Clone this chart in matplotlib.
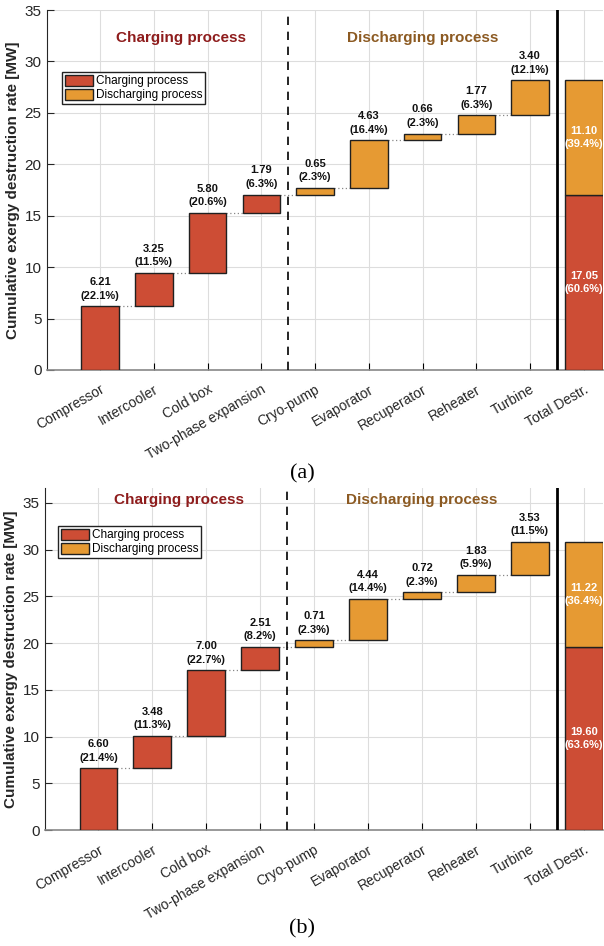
import matplotlib.pyplot as plt
import numpy as np

plt.rcParams['font.family'] = ['Liberation Sans', 'DejaVu Sans']

components = ["Compressor", "Intercooler", "Cold box", "Two-phase expansion",
              "Cryo-pump", "Evaporator", "Recuperator", "Reheater", "Turbine"]
total_label = "Total Destr."
n_charging = 4  # first four components belong to the charging process

# case (a)
vals_a = [6.21, 3.25, 5.80, 1.79, 0.65, 4.63, 0.66, 1.77, 3.40]
pct_a = [22.1, 11.5, 20.6, 6.3, 2.3, 16.4, 2.3, 6.3, 12.1]
tot_a = [17.05, 11.10]
tot_pct_a = [60.6, 39.4]

# case (b)
vals_b = [6.60, 3.48, 7.00, 2.51, 0.71, 4.44, 0.72, 1.83, 3.53]
pct_b = [21.4, 11.3, 22.7, 8.2, 2.3, 14.4, 2.3, 5.9, 11.5]
tot_b = [19.60, 11.22]
tot_pct_b = [63.6, 36.4]

c_chg = "#cd4d35"
c_dis = "#e69a33"
txt_chg = "#8e1c1c"
txt_dis = "#8c5a22"


def waterfall(ax, vals, pct, tot, tot_pct, ymax, title_y):
    w = 0.7
    x = np.arange(1, len(vals) + 1)
    base = np.concatenate([[0], np.cumsum(vals)[:-1]])
    cols = [c_chg if i < n_charging else c_dis for i in range(len(vals))]
    ax.bar(x, vals, w, bottom=base, color=cols, edgecolor="#202020", lw=1, zorder=3)
    # dotted connectors between consecutive bars
    for i in range(len(vals) - 1):
        top = base[i] + vals[i]
        ax.plot([x[i] + w / 2, x[i + 1] - w / 2], [top, top], ls=(0, (1, 2)), c="#888888", lw=0.9, zorder=2)
    for i in range(len(vals)):
        ax.annotate(f"{vals[i]:.2f}\n({pct[i]:.1f}%)", (x[i], base[i] + vals[i]),
                    xytext=(0, 4), textcoords="offset points", ha="center", va="bottom",
                    fontsize=8, fontweight="bold", linespacing=1.45, color="#111111")
    # stacked total bar
    xt = len(vals) + 1
    ax.bar(xt, tot[0], w, color=c_chg, edgecolor="#202020", lw=1, zorder=3)
    ax.bar(xt, tot[1], w, bottom=tot[0], color=c_dis, edgecolor="#202020", lw=1, zorder=3)
    ax.text(xt, tot[0] / 2, f"{tot[0]:.2f}\n({tot_pct[0]:.1f}%)", ha="center", va="center",
            color="white", fontsize=8, fontweight="bold", linespacing=1.45, zorder=4)
    ax.text(xt, tot[0] + tot[1] / 2, f"{tot[1]:.2f}\n({tot_pct[1]:.1f}%)", ha="center",
            va="center", color="white", fontsize=8, fontweight="bold", linespacing=1.45, zorder=4)

    ax.axvline(n_charging + 0.5, c="black", ls=(0, (5, 4)), lw=1.2, zorder=4)
    ax.axvline(len(vals) + 0.5, c="black", lw=2, zorder=4)

    ax.text(2.5, title_y, "Charging process", color=txt_chg, fontsize=11,
            fontweight="bold", ha="center", va="center")
    ax.text(7.0, title_y, "Discharging process", color=txt_dis, fontsize=11,
            fontweight="bold", ha="center", va="center")

    ax.set_xlim(0.01, 10.35)
    ax.set_ylim(0, ymax)
    ax.set_xticks(list(x) + [xt])
    ax.set_xticklabels(components + [total_label], rotation=30, ha="right",
                       rotation_mode="anchor", fontsize=10, color="#262626")
    ax.set_yticks(np.arange(0, 36, 5))
    ax.tick_params(axis="y", labelsize=11, colors="#262626", direction="in", length=5, pad=4)
    ax.tick_params(axis="x", direction="in", length=5, pad=9)
    ax.grid(True, color="#dddddd", lw=0.8, zorder=0)
    ax.set_axisbelow(True)
    for s in ["top", "right"]:
        ax.spines[s].set_visible(False)
    ax.spines["left"].set_color("#262626")
    ax.spines["bottom"].set_color("#888888")
    ax.spines["bottom"].set_linewidth(1.2)
    ax.set_ylabel("Cumulative exergy destruction rate [MW]", fontsize=11,
                  fontweight="bold", color="#262626", labelpad=3)

    h1 = plt.Rectangle((0, 0), 1, 1, fc=c_chg, ec="#202020", lw=1)
    h2 = plt.Rectangle((0, 0), 1, 1, fc=c_dis, ec="#202020", lw=1)
    leg = ax.legend([h1, h2], ["Charging process", "Discharging process"],
                    loc="upper left", fontsize=8.5, fancybox=False, framealpha=1,
                    handlelength=2.4, handleheight=1.0, handletextpad=0.2, borderpad=0.25,
                    labelspacing=0.15, borderaxespad=0)
    leg.get_frame().set_edgecolor("#222222")
    return leg


fig = plt.figure(figsize=(6.04, 9.46), dpi=100)
ax1 = fig.add_axes([0.0778, 0.6089, 0.92, 0.3805])
ax2 = fig.add_axes([0.0745, 0.1226, 0.9235, 0.3615])

leg1 = waterfall(ax1, vals_a, pct_a, tot_a, tot_pct_a, 35, 32.3)
leg1.set_bbox_to_anchor((62 / 604, 1 - 72 / 946), transform=fig.transFigure)
leg2 = waterfall(ax2, vals_b, pct_b, tot_b, tot_pct_b, 36.6, 35.3)
leg2.set_bbox_to_anchor((58 / 604, 1 - 526 / 946), transform=fig.transFigure)

fig.text(0.5, 1 - 474 / 946, "(a)", family="Liberation Serif", fontsize=16,
         ha="center", va="center")
fig.text(0.5, 1 - 929 / 946, "(b)", family="Liberation Serif", fontsize=16,
         ha="center", va="center")

fig.savefig("out.png", dpi=100)
